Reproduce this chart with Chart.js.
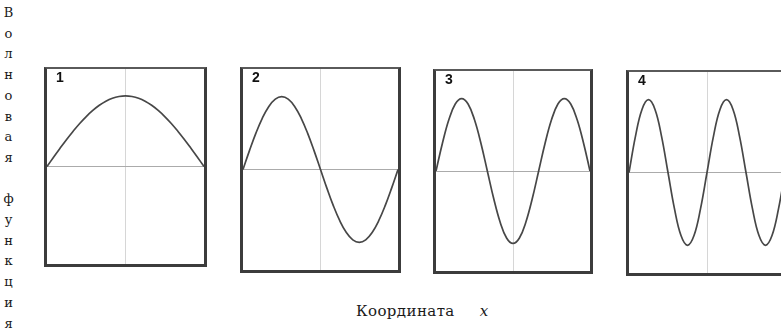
<!DOCTYPE html>
<html>
<head>
<meta charset="utf-8">
<script src="https://cdn.jsdelivr.net/npm/chart.js@4"></script>
<style>
  html, body { margin: 0; padding: 0; background: #fff; }
  body { width: 781px; height: 334px; position: relative; overflow: hidden; }
  .box {
    position: absolute;
    box-sizing: border-box;
    border-top: 2px solid #5a5a5a;
    border-left: 3px solid #3c3c3c;
    border-right: 3px solid #3c3c3c;
    border-bottom: 3px solid #3c3c3c;
  }
  .box canvas { display: block; }
  #ylab {
    position: absolute; left: 1px; top: 3px; width: 15px;
    font: 13px "DejaVu Serif", serif; line-height: 20.7px;
    text-align: center; color: #1a1a1a;
  }
  #xlab {
    position: absolute; left: 356px; top: 302px;
    font: 15px "DejaVu Serif", serif; letter-spacing: 0.4px; color: #1a1a1a; white-space: nowrap;
  }
  #xlab i { margin-left: 20px; }
</style>
</head>
<body>
<div id="ylab">В<br>о<br>л<br>н<br>о<br>в<br>а<br>я<br>&nbsp;<br>ф<br>у<br>н<br>к<br>ц<br>и<br>я</div>
<div id="xlab">Координата <i>x</i></div>

<div class="box" style="left:44px;top:67px;width:163px;height:200px"><canvas id="c1"></canvas></div>
<div class="box" style="left:240px;top:67px;width:161px;height:206px"><canvas id="c2"></canvas></div>
<div class="box" style="left:433px;top:69px;width:160px;height:205px"><canvas id="c3"></canvas></div>
<div class="box" style="left:626px;top:70px;width:162px;height:206px"><canvas id="c4"></canvas></div>

<script>
// coordinate across the box, 0..1
const xs = [0, 0.0417, 0.0833, 0.125, 0.1667, 0.2083, 0.25, 0.2917, 0.3333, 0.375, 0.4167, 0.4583, 0.5,
            0.5417, 0.5833, 0.625, 0.6667, 0.7083, 0.75, 0.7917, 0.8333, 0.875, 0.9167, 0.9583, 1];

// wave function for each state
const psi1 = [0, .131, .259, .383, .5, .609, .707, .793, .866, .924, .966, .991, 1,
              .991, .966, .924, .866, .793, .707, .609, .5, .383, .259, .131, 0];
const psi2 = [0, .259, .5, .707, .866, .966, 1, .966, .866, .707, .5, .259, 0,
              -.259, -.5, -.707, -.866, -.966, -1, -.966, -.866, -.707, -.5, -.259, 0];
const psi3 = [0, .383, .707, .924, 1, .924, .707, .383, 0, -.383, -.707, -.924, -1,
              -.924, -.707, -.383, 0, .383, .707, .924, 1, .924, .707, .383, 0];
const psi4 = [0, .5, .866, 1, .866, .5, 0, -.5, -.866, -1, -.866, -.5, 0,
              .5, .866, 1, .866, .5, 0, -.5, -.866, -1, -.866, -.5, 0];

const states = ['1', '2', '3', '4'];
const series = [psi1, psi2, psi3, psi4];

// state number in the top-left corner
const stateLabel = {
  id: 'stateLabel',
  afterDraw(chart, args, opts) {
    const { ctx, chartArea } = chart;
    ctx.save();
    ctx.font = 'bold 14px "Liberation Sans", Arial, sans-serif';
    ctx.fillStyle = '#111';
    ctx.textBaseline = 'top';
    ctx.fillText(opts.text, chartArea.left + 9, chartArea.top + 2);
    ctx.restore();
  }
};

series.forEach((vals, i) => {
  const canvas = document.getElementById('c' + (i + 1));
  const box = canvas.parentElement;
  canvas.width = box.clientWidth;
  canvas.height = box.clientHeight;

  new Chart(canvas, {
    type: 'line',
    data: {
      datasets: [{
        data: xs.map((x, k) => ({ x: x, y: vals[k] })),
        borderColor: '#474747',
        borderWidth: 1.7,
        pointRadius: 0,
        tension: 0.4,
        fill: false
      }]
    },
    options: {
      responsive: false,
      animation: false,
      layout: { padding: 0 },
      plugins: {
        legend: { display: false },
        tooltip: { enabled: false },
        stateLabel: { text: states[i] }
      },
      scales: {
        x: {
          type: 'linear', min: 0, max: 1,
          afterBuildTicks: s => { s.ticks = [{ value: 0.5 }]; },
          ticks: { display: false },
          grid: { color: '#d6d6d6', lineWidth: 1, drawTicks: false },
          border: { display: false }
        },
        y: {
          min: -1.38, max: 1.38,
          afterBuildTicks: s => { s.ticks = [{ value: 0 }]; },
          ticks: { display: false },
          grid: { color: '#ababab', lineWidth: 1, drawTicks: false },
          border: { display: false }
        }
      }
    },
    plugins: [stateLabel]
  });
});
</script>
</body>
</html>
